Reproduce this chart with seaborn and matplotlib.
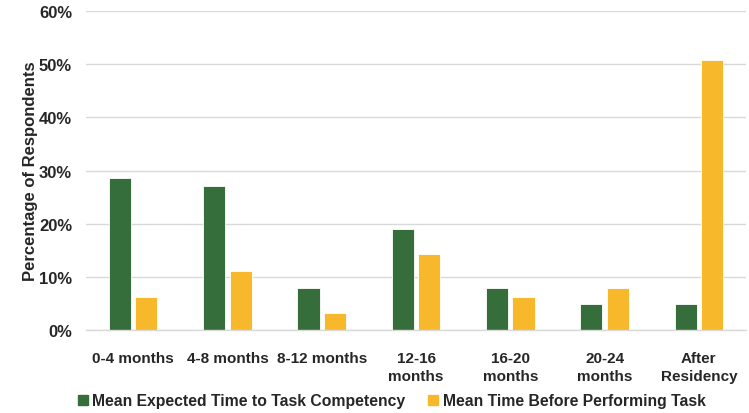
import pandas as pd
import seaborn as sns
import matplotlib.pyplot as plt
from matplotlib.ticker import PercentFormatter
from matplotlib.lines import Line2D

# Data (percent of respondents)
categories = ['0-4 months', '4-8 months', '8-12 months', '12-16\nmonths',
              '16-20\nmonths', '20-24\nmonths', 'After\nResidency']
competency = [28.6, 27.0, 7.9, 19.0, 7.9, 4.8, 4.8]
performing = [6.3, 11.1, 3.2, 14.3, 6.3, 7.9, 50.8]
series = ['Mean Expected Time to Task Competency', 'Mean Time Before Performing Task']
colors = ['#356E3A', '#F8B82C']

df = pd.DataFrame({
    'category': categories * 2,
    'series': [series[0]] * len(categories) + [series[1]] * len(categories),
    'value': competency + performing,
})

sns.set_theme(style='white')
plt.rcParams['font.family'] = ['Liberation Sans', 'DejaVu Sans']
plt.rcParams['font.weight'] = 'bold'

fig, ax = plt.subplots(figsize=(7.49, 4.14), dpi=100)
fig.subplots_adjust(left=86/749, right=746/749, top=1-12/414, bottom=1-331/414)

sns.barplot(data=df, x='category', y='value', hue='series', palette=colors,
            saturation=1, width=0.56, gap=0.16, edgecolor='white', linewidth=0.6,
            legend=False, ax=ax)

ax.set_ylim(0, 60)
ax.set_yticks(range(0, 61, 10))
ax.yaxis.set_major_formatter(PercentFormatter(decimals=0))
ax.grid(axis='y', color='#D9D9D9', linewidth=1)
ax.set_axisbelow(True)
for s in ['top', 'right', 'left']:
    ax.spines[s].set_visible(False)
ax.spines['bottom'].set_color('#D9D9D9')
ax.spines['bottom'].set_linewidth(1)

ax.tick_params(axis='y', length=0, pad=10, labelsize=12)
ax.tick_params(axis='x', length=0, pad=15, labelsize=11)
for lab in ax.get_xticklabels() + ax.get_yticklabels():
    lab.set_fontweight('bold')
for lab in ax.get_xticklabels():
    lab.set_linespacing(1.35)

ax.set_xlabel('')
ax.set_ylabel('Percentage of Respondents', fontsize=12, fontweight='bold')
ax.yaxis.set_label_coords(-0.072, 0.5)

handles = [Line2D([], [], marker='s', linestyle='', color=c, markersize=7) for c in colors]
fig.legend(handles, series, loc='center', bbox_to_anchor=(0.523, 1-402/414), ncol=2,
           frameon=False, handlelength=0.6, handletextpad=0.3, columnspacing=1.5,
           prop={'weight': 'bold', 'size': 11.3})

fig.savefig('out.png', dpi=100)
